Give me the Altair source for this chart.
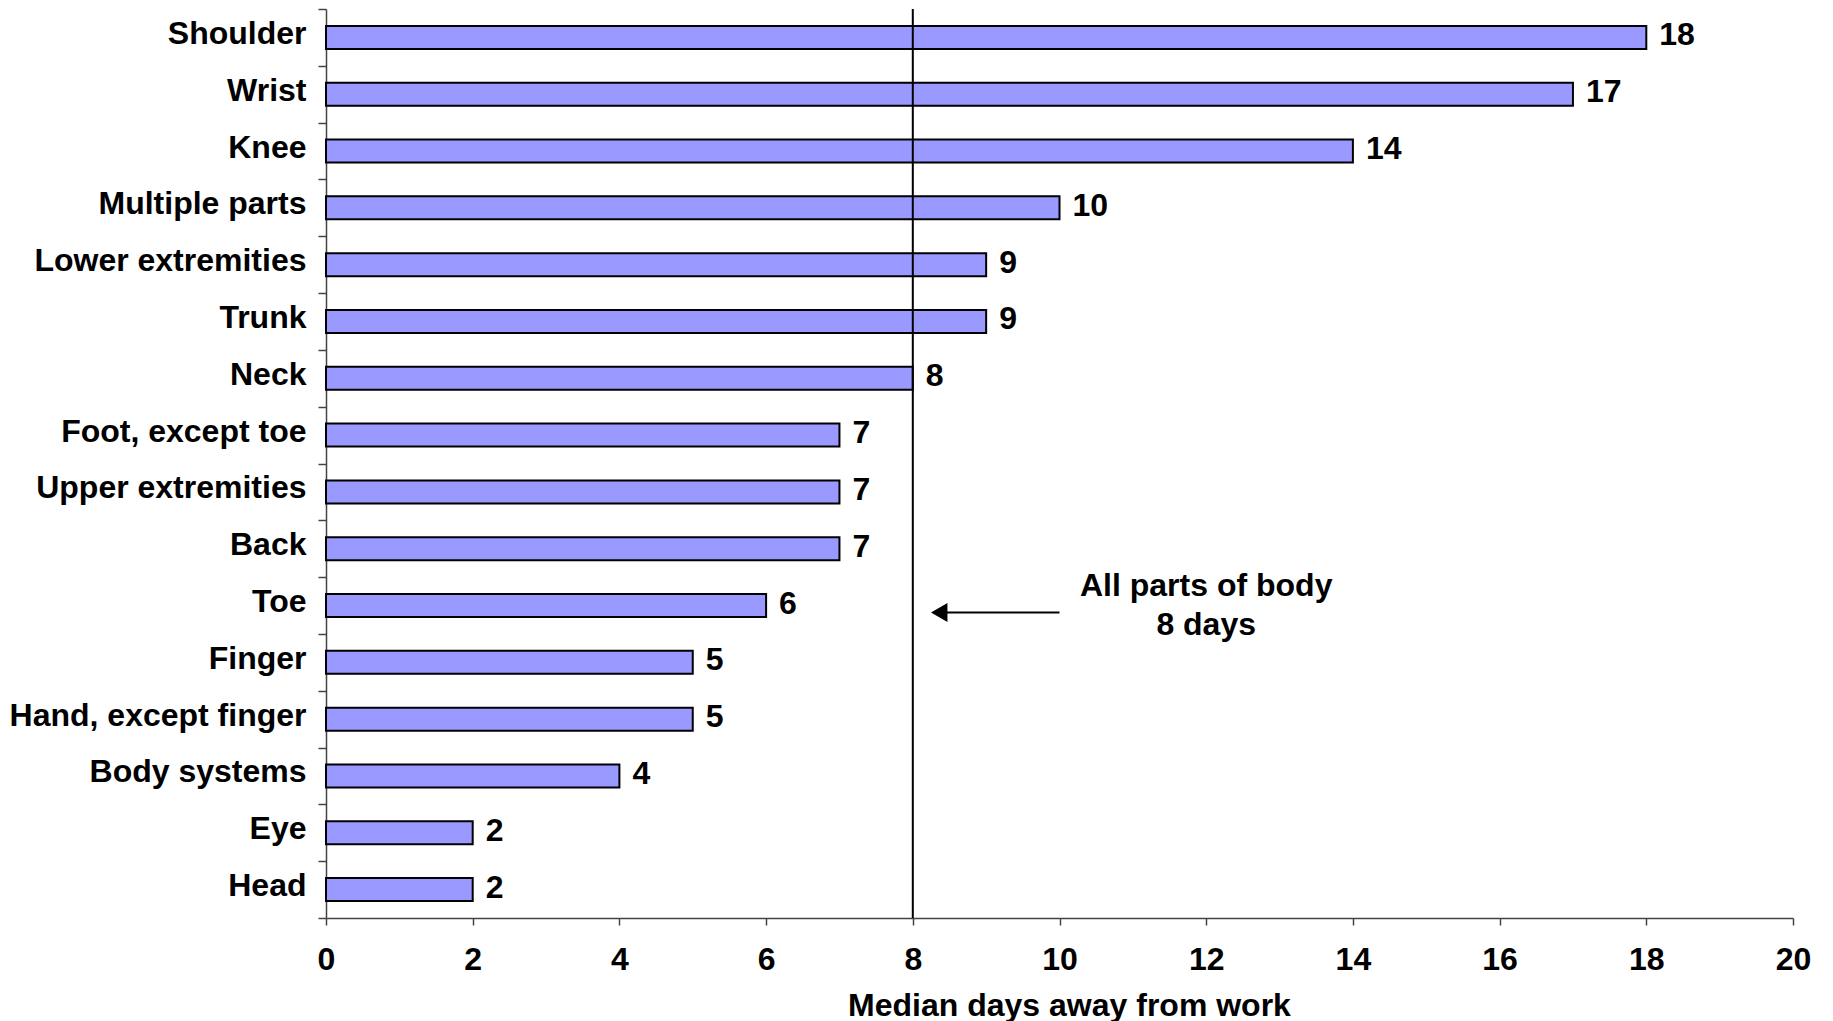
import altair as alt
import pandas as pd

categories = ["Shoulder", "Wrist", "Knee", "Multiple parts", "Lower extremities",
              "Trunk", "Neck", "Foot, except toe", "Upper extremities", "Back",
              "Toe", "Finger", "Hand, except finger", "Body systems", "Eye", "Head"]
values = [18, 17, 14, 10, 9, 9, 8, 7, 7, 7, 6, 5, 5, 4, 2, 2]
x_ticks = [0, 2, 4, 6, 8, 10, 12, 14, 16, 18, 20]

overall_median = 8
annot_lines = ["All parts of body", "8 days"]
annot_x = 12
annot_cat = "Toe"
arrow_from = 10
arrow_to = 8.35
arrow_head = 8.36

FONT = "Liberation Sans"
FS = 32

df = pd.DataFrame({"part": categories, "days": values})

y_enc = alt.Y("part:N", sort=categories,
              scale=alt.Scale(paddingInner=0, paddingOuter=0),
              axis=alt.Axis(title=None, tickBand="extent", tickSize=8,
                            labelPadding=12, labelFont=FONT, labelFontSize=FS,
                            labelFontWeight="bold", labelColor="black",
                            labelBaseline="alphabetic", labelOffset=6,
                            domainColor="#444444", tickColor="#444444",
                            domainWidth=1.5, tickWidth=1.5, grid=False,
                            labelLimit=0))

x_scale = alt.Scale(domain=[0, 20], nice=False)
x_axis = alt.Axis(values=x_ticks, format="d", title="Median days away from work",
                  tickSize=7, labelPadding=44, labelBaseline="alphabetic",
                  labelFlush=False, labelOverlap=False,
                  labelFont=FONT, labelFontSize=FS, labelFontWeight="bold",
                  labelColor="black", titleFont=FONT, titleFontSize=FS,
                  titleFontWeight="bold", titleColor="black",
                  titleBaseline="alphabetic", titleY=97, titleX=743,
                  domainColor="#444444", tickColor="#444444",
                  domainWidth=1.5, tickWidth=1.5, grid=False)

bars = alt.Chart(df).mark_bar(color="#9999FF", stroke="black", strokeWidth=2,
                              size=23).encode(
    x=alt.X("days:Q", scale=x_scale, axis=x_axis),
    y=y_enc,
)

labels = alt.Chart(df).mark_text(align="left", baseline="alphabetic", dx=13, dy=8,
                                 font=FONT, fontSize=FS, fontWeight="bold",
                                 color="black").encode(
    x=alt.X("days:Q", scale=x_scale),
    y=alt.Y("part:N", sort=categories),
    text="days:Q",
)

vline = alt.Chart(pd.DataFrame({"x": [overall_median]})).mark_rule(
    color="black", strokeWidth=2).encode(x=alt.X("x:Q", scale=x_scale))

arrow_df = pd.DataFrame({"part": [annot_cat], "x1": [arrow_from], "x2": [arrow_to],
                         "xh": [arrow_head]})
arrow = alt.Chart(arrow_df).mark_rule(color="black", strokeWidth=2, yOffset=7).encode(
    x=alt.X("x1:Q", scale=x_scale), x2="x2:Q",
    y=alt.Y("part:N", sort=categories),
)
head = alt.Chart(arrow_df).mark_point(shape="triangle-left", filled=True, color="black",
                                      opacity=1, size=360, yOffset=7).encode(
    x=alt.X("xh:Q", scale=x_scale),
    y=alt.Y("part:N", sort=categories),
)

annot = alt.Chart(pd.DataFrame({"part": [annot_cat], "x": [annot_x],
                                "t": [annot_lines]})).mark_text(
    align="center", baseline="alphabetic", dy=-10, lineHeight=39,
    font=FONT, fontSize=FS, fontWeight="bold", color="black").encode(
    x=alt.X("x:Q", scale=x_scale),
    y=alt.Y("part:N", sort=categories),
    text="t",
)

chart = alt.layer(bars, vline, labels, arrow, head, annot).properties(
    width=1467, height=909,
    background="white",
    autosize=alt.AutoSizeParams(type="none"),
    padding={"left": 318, "top": 1, "right": 32, "bottom": 112},
).configure_view(stroke=None, strokeWidth=0)

chart.save("out.html", embed_options={"renderer": "svg", "actions": False})
